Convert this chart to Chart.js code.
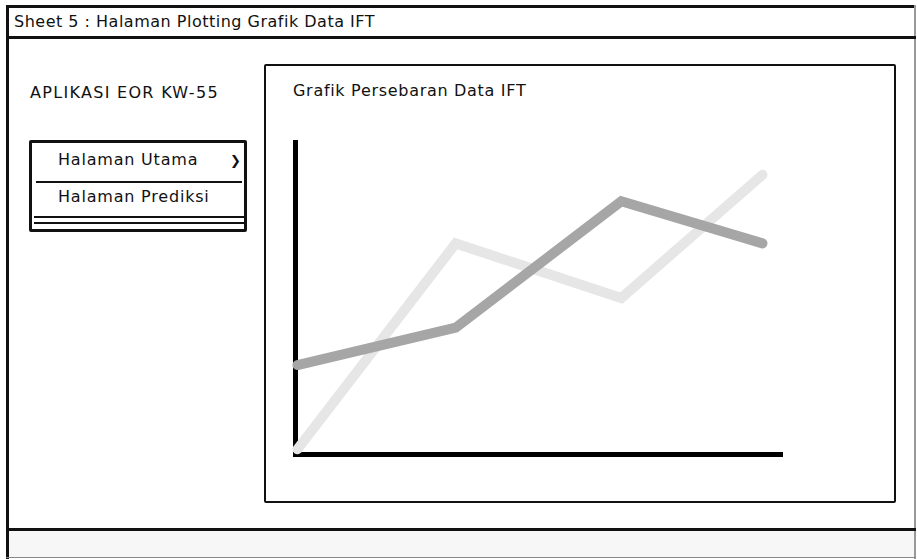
<!DOCTYPE html>
<html>
<head>
<meta charset="utf-8">
<script src="https://cdn.jsdelivr.net/npm/chart.js@4"></script>
<style>
  body { margin: 0; width: 917px; height: 559px; background: #fff; font-family: "DejaVu Sans", sans-serif; color: #111; overflow: hidden; }
  .ln { position: absolute; background: #111; }
  .txt { position: absolute; white-space: nowrap; font-size: 16px; letter-spacing: 0.5px; line-height: 20px; }
  #menu { position: absolute; left: 29px; top: 140px; width: 212px; height: 86px; border: 3px solid #111; border-radius: 2px; }
  #panel { position: absolute; left: 264px; top: 64px; width: 628px; height: 435px; border: 2.5px solid #111; border-radius: 2px; }
  #chartBox { position: absolute; left: 270px; top: 120px; width: 530px; height: 350px; }
</style>
</head>
<body>
<!-- window frame -->
<div class="ln" style="left:6px;top:5px;width:910px;height:3px;"></div>
<div class="ln" style="left:6px;top:5px;width:3px;height:554px;"></div>
<div class="ln" style="left:914px;top:5px;width:2px;height:554px;background:#999;"></div>
<div class="ln" style="left:6px;top:36px;width:910px;height:3px;"></div>
<div style="position:absolute;left:9px;top:531px;width:905px;height:26px;background:#f7f7f7;"></div>
<div class="ln" style="left:6px;top:528px;width:910px;height:3px;"></div>
<div class="ln" style="left:6px;top:557px;width:910px;height:1px;background:#888;"></div>
<div class="txt" style="left:14px;top:12px;">Sheet 5 : Halaman Plotting Grafik Data IFT</div>

<!-- sidebar -->
<div class="txt" style="left:30px;top:83px;letter-spacing:1.3px;">APLIKASI EOR KW-55</div>
<div id="menu">
  <div class="txt" style="left:26px;top:7px;letter-spacing:0.8px;">Halaman Utama</div>
  <div class="txt" style="left:198px;top:8px;font-size:13px;">❯</div>
  <div class="ln" style="left:4px;top:38px;width:206px;height:2px;"></div>
  <div class="txt" style="left:26px;top:44px;letter-spacing:0.8px;">Halaman Prediksi</div>
  <div class="ln" style="left:2px;top:73px;width:210px;height:2px;"></div>
  <div class="ln" style="left:2px;top:79px;width:210px;height:2px;"></div>
</div>

<!-- chart panel -->
<div id="panel"></div>
<div class="txt" style="left:293px;top:81px;letter-spacing:0.7px;">Grafik Persebaran Data IFT</div>
<div id="chartBox"><canvas id="iftChart"></canvas></div>

<script>
// x positions and values (axis 0..10)
const xPoints = [0.05, 3.3, 6.7, 9.6];
const seriesA = [2.85, 4.05, 8.1, 6.75];
const seriesB = [0.15, 6.75, 5.0, 8.95];

const toPoints = (ys) => ys.map((y, i) => ({ x: xPoints[i], y: y }));

document.addEventListener('DOMContentLoaded', () => {
    const ctx = document.getElementById('iftChart').getContext('2d');
    const axis = {
        type: 'linear',
        min: 0,
        max: 10,
        grid: { display: false, drawTicks: false },
        ticks: { display: false },
        border: { display: true, color: '#000', width: 5 }
    };
    new Chart(ctx, {
        type: 'line',
        data: {
            datasets: [
                {
                    label: 'A',
                    data: toPoints(seriesA),
                    borderColor: '#a6a6a6',
                    borderWidth: 10,
                    borderCapStyle: 'round',
                    pointRadius: 0,
                    clip: false
                },
                {
                    label: 'B',
                    data: toPoints(seriesB),
                    borderColor: '#e6e6e6',
                    borderWidth: 10,
                    borderCapStyle: 'round',
                    pointRadius: 0,
                    clip: false
                }
            ]
        },
        options: {
            responsive: true,
            maintainAspectRatio: false,
            animation: false,
            layout: { padding: { left: 25, top: 22, right: 18, bottom: 16 } },
            plugins: { legend: { display: false }, tooltip: { enabled: false } },
            scales: { x: axis, y: axis }
        }
    });
});
</script>
</body>
</html>
